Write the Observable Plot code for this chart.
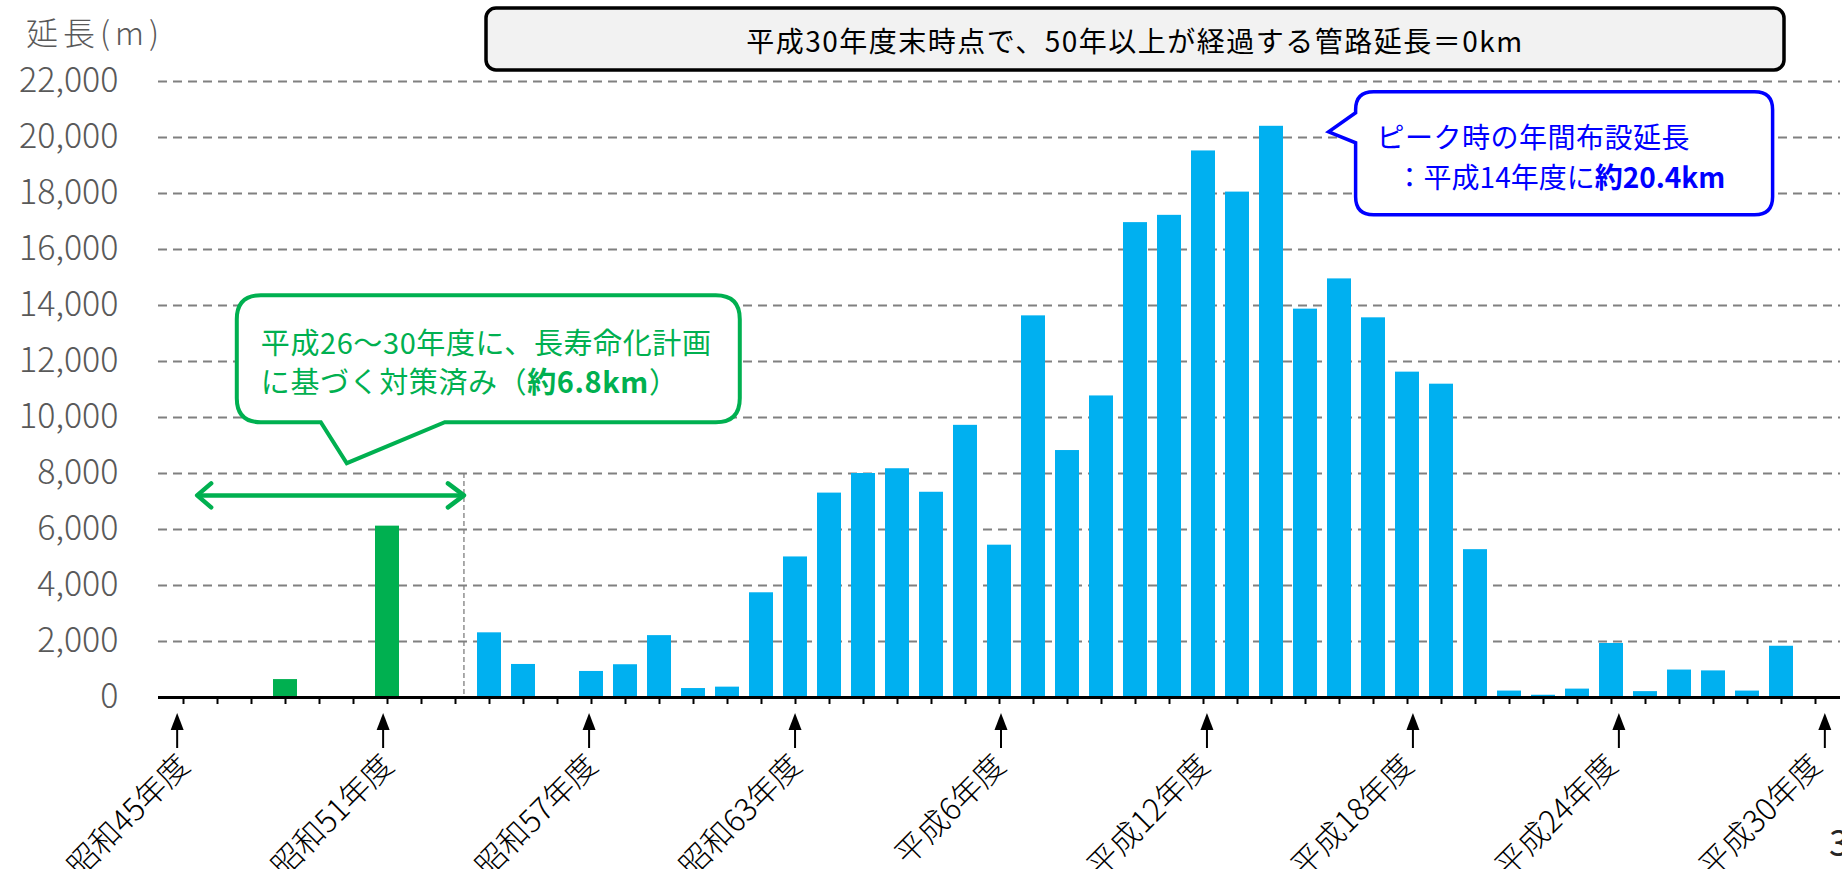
<!DOCTYPE html>
<html lang="ja">
<head>
<meta charset="utf-8">
<script src="https://cdn.jsdelivr.net/npm/d3@7"></script>
<script src="https://cdn.jsdelivr.net/npm/@observablehq/plot@0.6"></script>
<style>
  html, body { margin: 0; padding: 0; background: #ffffff; }
  #chart { width: 1842px; height: 869px; overflow: hidden; }
  #chart svg { display: block; }
</style>
</head>
<body>
<div id="chart"></div>
<script>
// Fiscal years of installation (昭和45年度 … 平成30年度)
const years = [
  "昭和45年度", "昭和46年度", "昭和47年度", "昭和48年度", "昭和49年度",
  "昭和50年度", "昭和51年度", "昭和52年度", "昭和53年度", "昭和54年度",
  "昭和55年度", "昭和56年度", "昭和57年度", "昭和58年度", "昭和59年度",
  "昭和60年度", "昭和61年度", "昭和62年度", "昭和63年度",
  "平成1年度", "平成2年度", "平成3年度", "平成4年度", "平成5年度",
  "平成6年度", "平成7年度", "平成8年度", "平成9年度", "平成10年度",
  "平成11年度", "平成12年度", "平成13年度", "平成14年度", "平成15年度",
  "平成16年度", "平成17年度", "平成18年度", "平成19年度", "平成20年度",
  "平成21年度", "平成22年度", "平成23年度", "平成24年度", "平成25年度",
  "平成26年度", "平成27年度", "平成28年度", "平成29年度", "平成30年度"
];

// Length of pipe laid in each year (m)
const lengths = [
  0, 0, 0, 640, 0, 0, 6120, 0, 0, 2310,
  1180, 0, 930, 1170, 2210, 320, 370, 3740, 5020,
  7300, 8000, 8170, 7330, 9720, 5440, 13630, 8820, 10770, 16960,
  17220, 19520, 18050, 20400, 13870, 14950, 13560, 11620, 11190, 5280,
  230, 80, 300, 1930, 210, 980, 950, 230, 1830, 0
];

// Years already covered by the long-life plan (H26–30 works)
const treatedFirst = "昭和45年度";
const treatedLast = "昭和53年度";

// Labelled years on the category axis
const tickLabels = [
  "昭和45年度", "昭和51年度", "昭和57年度", "昭和63年度", "平成6年度",
  "平成12年度", "平成18年度", "平成24年度", "平成30年度"
];

// Value axis ticks
const yTicks = [0, 2000, 4000, 6000, 8000, 10000, 12000, 14000, 16000, 18000, 20000, 22000];

// Peak year called out on the chart
const peakYear = "平成14年度";
const peakValue = 20400;

const JP = "'Noto Sans CJK JP', 'Noto Sans', sans-serif";
const BLUE = "#00B0F0";
const GREEN = "#00B050";

const iFirst = years.indexOf(treatedFirst), iLast = years.indexOf(treatedLast);
const table = years.map((year, i) => ({
  year,
  length: lengths[i],
  treated: i >= iFirst && i <= iLast
}));

const chart = Plot.plot({
  width: 1842,
  height: 869,
  marginLeft: 158,
  marginRight: 2,
  marginTop: 81,
  marginBottom: 172,
  style: { fontFamily: JP, background: "#ffffff", overflow: "visible" },
  x: { type: "band", domain: years, paddingInner: 0.29, paddingOuter: 0.145, align: 0.5, axis: null },
  y: { domain: [0, 22000], axis: null },
  marks: [
    Plot.ruleY(yTicks.filter(v => v > 0), { stroke: "#808080", strokeWidth: 2, strokeDasharray: "9,6" }),
    Plot.text(yTicks, {
      y: d => d, text: d => d3.format(",")(d), frameAnchor: "left",
      textAnchor: "end", dx: -40, fontSize: 34, fill: "#595959", fontWeight: 300
    }),
    Plot.barY(table, { x: "year", y: "length", fill: d => d.treated ? GREEN : BLUE }),
    Plot.ruleY([0], { stroke: "#000000", strokeWidth: 3 }),
    Plot.axisX({ ticks: years, tickSize: 7, tickFormat: () => "", label: null, strokeWidth: 2, stroke: "#000000" }),
    Plot.text(tickLabels, {
      x: d => d, frameAnchor: "bottom", rotate: -45, textAnchor: "end", lineAnchor: "bottom",
      dx: 8, dy: 70, fontSize: 31, fill: "#000000", fontWeight: 300
    })
  ]
});

document.getElementById("chart").appendChild(chart);

// Annotations positioned from the plot's own scales
const xDesc = chart.scale("x");
const yDesc = chart.scale("y");
const xBand = d3.scaleBand(xDesc.domain, xDesc.range)
  .paddingInner(xDesc.paddingInner).paddingOuter(xDesc.paddingOuter).align(xDesc.align);
const xc = d => xBand(d) + xBand.bandwidth() / 2;
const yv = d3.scaleLinear(yDesc.domain, yDesc.range);

const svg = d3.select(chart);
const g = svg.append("g").attr("font-family", JP).attr("text-anchor", "start");

// Value-axis title
g.append("text").attr("x", 26).attr("y", yv(22000) - 50)
  .attr("text-anchor", "start").attr("dominant-baseline", "central")
  .attr("font-size", 32).attr("font-weight", 300).attr("letter-spacing", 5)
  .attr("fill", "#595959").text("延長(m)");

// Up-arrows pointing at labelled years
const arrowTop = yv(0) + 16;
const arrowBottom = yv(0) + 51;
for (const label of tickLabels) {
  const x = xc(label) + 2;
  g.append("line").attr("x1", x).attr("x2", x)
    .attr("y1", arrowBottom).attr("y2", arrowTop + 12)
    .attr("stroke", "#000").attr("stroke-width", 2);
  g.append("path")
    .attr("d", `M${x},${arrowTop} L${x - 6.5},${arrowTop + 17} L${x + 6.5},${arrowTop + 17} Z`)
    .attr("fill", "#000");
}

// Boundary between treated and untreated years
const iNext = iLast + 1;
const boundaryX = (xc(years[iLast]) + xc(years[iNext])) / 2 - 3;
g.append("line")
  .attr("x1", boundaryX).attr("x2", boundaryX)
  .attr("y1", yv(8000)).attr("y2", yv(0))
  .attr("stroke", "#7f7f7f").attr("stroke-width", 1.3).attr("stroke-dasharray", "5,3");

// Green double arrow spanning the treated range
const daY = yv(7200);
const daL = xc(treatedFirst) + 22;
const daR = boundaryX;
g.append("line").attr("x1", daL + 2).attr("x2", daR - 2).attr("y1", daY).attr("y2", daY)
  .attr("stroke", GREEN).attr("stroke-width", 4.5);
g.append("path")
  .attr("d", `M${daL + 14},${daY - 12} L${daL},${daY} L${daL + 14},${daY + 12}`)
  .attr("fill", "none").attr("stroke", GREEN).attr("stroke-width", 4.5)
  .attr("stroke-linecap", "round").attr("stroke-linejoin", "round");
g.append("path")
  .attr("d", `M${daR - 16},${daY - 12} L${daR},${daY} L${daR - 16},${daY + 12}`)
  .attr("fill", "none").attr("stroke", GREEN).attr("stroke-width", 4.5)
  .attr("stroke-linecap", "round").attr("stroke-linejoin", "round");

// Green callout
{
  const tx = xc("昭和50年度"), ty = yv(8350);
  const L = tx - 110, R = tx + 393, T = ty - 168, B = ty - 41, r = 24;
  const b1 = tx - 26, b2 = tx + 98;
  g.append("path")
    .attr("d", `M${L + r},${T} H${R - r} Q${R},${T} ${R},${T + r} V${B - r} Q${R},${B} ${R - r},${B}
      H${b2} L${tx},${ty} L${b1},${B} H${L + r} Q${L},${B} ${L},${B - r} V${T + r} Q${L},${T} ${L + r},${T} Z`)
    .attr("fill", "#ffffff").attr("stroke", GREEN).attr("stroke-width", 4);
  g.append("text").attr("x", L + 24).attr("y", T + 46)
    .attr("text-anchor", "start").attr("dominant-baseline", "central")
    .attr("font-size", 29).attr("letter-spacing", 0.6).attr("fill", GREEN)
    .text("平成26～30年度に、長寿命化計画");
  const t2 = g.append("text").attr("x", L + 24).attr("y", T + 85)
    .attr("text-anchor", "start").attr("dominant-baseline", "central")
    .attr("font-size", 29).attr("letter-spacing", 0.6).attr("fill", GREEN);
  t2.append("tspan").text("に基づく対策済み（");
  t2.append("tspan").attr("font-weight", "bold").text("約6.8km");
  t2.append("tspan").text("）");
}

// Blue callout for the peak year
{
  const tx = xc(peakYear) + 55, ty = yv(peakValue) + 6;
  const L = tx + 27, R = tx + 444, T = ty - 40, B = ty + 83, r = 18;
  g.append("path")
    .attr("d", `M${L + r},${T} H${R - r} Q${R},${T} ${R},${T + r} V${B - r} Q${R},${B} ${R - r},${B}
      H${L + r} Q${L},${B} ${L},${B - r} V${ty + 11} L${tx},${ty} L${L},${ty - 19} V${T + r} Q${L},${T} ${L + r},${T} Z`)
    .attr("fill", "#ffffff").attr("stroke", "#0000FF").attr("stroke-width", 3.5);
  g.append("text").attr("x", L + 21).attr("y", T + 44)
    .attr("text-anchor", "start").attr("dominant-baseline", "central")
    .attr("font-size", 28).attr("letter-spacing", 0.5).attr("fill", "#0000FF")
    .text("ピーク時の年間布設延長");
  const t2 = g.append("text").attr("x", L + 40).attr("y", T + 84)
    .attr("text-anchor", "start").attr("dominant-baseline", "central")
    .attr("font-size", 28).attr("fill", "#0000FF");
  t2.append("tspan").text("：平成14年度に");
  t2.append("tspan").attr("font-weight", "bold").text("約20.4km");
}

// Headline box
{
  const L = 486, R = 1784, T = 8, B = 70, r = 10;
  g.append("rect").attr("x", L).attr("y", T).attr("width", R - L).attr("height", B - T)
    .attr("rx", r).attr("ry", r)
    .attr("fill", "#F2F2F2").attr("stroke", "#000000").attr("stroke-width", 3.5);
  g.append("text").attr("x", (L + R) / 2).attr("y", (T + B) / 2 + 1)
    .attr("text-anchor", "middle").attr("dominant-baseline", "central")
    .attr("font-size", 28).attr("letter-spacing", 1.5).attr("fill", "#000000")
    .text("平成30年度末時点で、50年以上が経過する管路延長＝0km");
}

// Page number
g.append("text").attr("x", 1829).attr("y", 856)
  .attr("text-anchor", "start").attr("font-size", 36).attr("fill", "#262626").text("3");
</script>
</body>
</html>
